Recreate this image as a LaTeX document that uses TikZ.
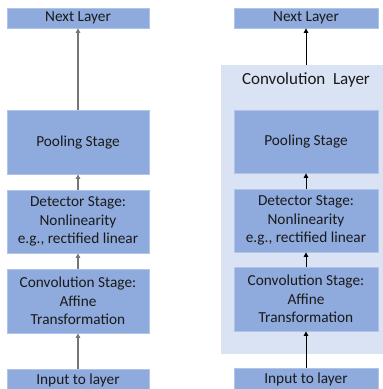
\documentclass[tikz,border=0pt]{standalone}
\usepackage{fontspec}
\setmainfont{Carlito}
\usetikzlibrary{arrows.meta}
\definecolor{stagefill}{HTML}{8FAADC}
\definecolor{stageline}{HTML}{B0C3E8}
\definecolor{layerfill}{HTML}{DAE3F3}
\definecolor{greyarrow}{HTML}{767676}
\definecolor{textdark}{HTML}{1A1A1A}
\begin{document}
\begin{tikzpicture}[x=1pt,y=-1pt,
  stagebox/.style={draw=stageline,line width=0.8pt,fill=stagefill,inner sep=0pt,
    align=center,text=textdark,font=\fontsize{15.3}{18.3}\selectfont},
  leftbox/.style={stagebox,minimum width=142pt},
  rightbox/.style={stagebox,minimum width=144pt},
  greyflow/.style={draw=greyarrow,line width=1.3pt,-{Triangle[length=4.5pt,width=4.5pt]}},
  blackflow/.style={draw=black,line width=0.9pt,-{Triangle[length=4.5pt,width=4.5pt]}}]
\useasboundingbox (0,0) rectangle (383,389);
% container of the right-hand column
\node[fill=layerfill,minimum width=166pt,minimum height=289pt,inner sep=0pt] (layer) at (304,209.5) {};
\node[text=textdark,font=\fontsize{17}{20}\selectfont] (layertitle) at (306,80) {Convolution\ \ Layer};
% left column
\node[leftbox,minimum height=20pt] (lnext) at (78,18) {Next Layer};
\node[leftbox,minimum height=64pt] (lpool) at (78,142) {Pooling Stage};
\node[leftbox,minimum height=63pt] (ldet) at (78,221.5) {Detector Stage:\\Nonlinearity\\e.g., rectified linear};
\node[leftbox,minimum height=64pt] (lconv) at (78,301) {Convolution Stage:\\Affine\\Transformation};
\node[leftbox,minimum height=22pt] (linput) at (78,380) {Input to layer};
% right column
\node[rightbox,minimum height=20pt] (rnext) at (306,18) {Next Layer};
\node[rightbox,minimum height=63pt] (rpool) at (306,141.5) {Pooling Stage};
\node[rightbox,minimum height=63pt] (rdet) at (306,220.5) {Detector Stage:\\Nonlinearity\\e.g., rectified linear};
\node[rightbox,minimum height=64pt] (rconv) at (306,299) {Convolution Stage:\\Affine\\Transformation};
\node[rightbox,minimum height=22pt] (rinput) at (306,379) {Input to layer};
% flow of the left column
\draw[greyflow] (linput) -- (lconv);
\draw[greyflow] (lconv) -- (ldet);
\draw[greyflow] (ldet) -- (lpool);
\draw[greyflow] (lpool) -- (lnext);
% flow of the right column
\draw[blackflow] (rinput) -- (rconv);
\draw[blackflow] (rconv) -- (rdet);
\draw[blackflow] (rdet) -- (rpool);
\draw[blackflow] (layer.north -| rnext.south) -- (rnext);
\end{tikzpicture}
\end{document}
